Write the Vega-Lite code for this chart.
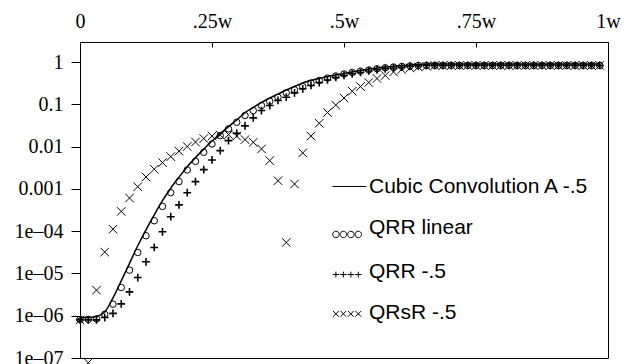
{
"$schema": "https://vega.github.io/schema/vega-lite/v6.json",
"width": 528, "height": 316,
"autosize": {"type": "none"},
"padding": {"left": 80, "top": 42, "right": 17, "bottom": 6},
"background": "white",
"config": {
  "view": {"stroke": "black", "strokeWidth": 1},
  "axis": {"domainColor": "black", "tickColor": "black", "labelColor": "black", "grid": false, "title": null}
},
"data": {"values": [
{"s":"Cubic Convolution A -.5","x":0,"v":9.14e-7},
{"s":"Cubic Convolution A -.5","x":0.015625,"v":9.14e-7},
{"s":"Cubic Convolution A -.5","x":0.03125,"v":9.64e-7},
{"s":"Cubic Convolution A -.5","x":0.046875,"v":1.23e-6},
{"s":"Cubic Convolution A -.5","x":0.0625,"v":2.65e-6},
{"s":"Cubic Convolution A -.5","x":0.078125,"v":6.70e-6},
{"s":"Cubic Convolution A -.5","x":0.09375,"v":1.74e-5},
{"s":"Cubic Convolution A -.5","x":0.109375,"v":4.52e-5},
{"s":"Cubic Convolution A -.5","x":0.125,"v":1.08e-4},
{"s":"Cubic Convolution A -.5","x":0.140625,"v":2.45e-4},
{"s":"Cubic Convolution A -.5","x":0.15625,"v":5.27e-4},
{"s":"Cubic Convolution A -.5","x":0.171875,"v":1.04e-3},
{"s":"Cubic Convolution A -.5","x":0.1875,"v":1.90e-3},
{"s":"Cubic Convolution A -.5","x":0.203125,"v":3.37e-3},
{"s":"Cubic Convolution A -.5","x":0.21875,"v":5.51e-3},
{"s":"Cubic Convolution A -.5","x":0.234375,"v":8.77e-3},
{"s":"Cubic Convolution A -.5","x":0.25,"v":0.0136},
{"s":"Cubic Convolution A -.5","x":0.265625,"v":0.0204},
{"s":"Cubic Convolution A -.5","x":0.28125,"v":0.0299},
{"s":"Cubic Convolution A -.5","x":0.296875,"v":0.0427},
{"s":"Cubic Convolution A -.5","x":0.3125,"v":0.0643},
{"s":"Cubic Convolution A -.5","x":0.328125,"v":0.0844},
{"s":"Cubic Convolution A -.5","x":0.34375,"v":0.111},
{"s":"Cubic Convolution A -.5","x":0.359375,"v":0.142},
{"s":"Cubic Convolution A -.5","x":0.375,"v":0.176},
{"s":"Cubic Convolution A -.5","x":0.390625,"v":0.219},
{"s":"Cubic Convolution A -.5","x":0.40625,"v":0.265},
{"s":"Cubic Convolution A -.5","x":0.421875,"v":0.321},
{"s":"Cubic Convolution A -.5","x":0.4375,"v":0.368},
{"s":"Cubic Convolution A -.5","x":0.453125,"v":0.411},
{"s":"Cubic Convolution A -.5","x":0.46875,"v":0.458},
{"s":"Cubic Convolution A -.5","x":0.484375,"v":0.497},
{"s":"Cubic Convolution A -.5","x":0.5,"v":0.540},
{"s":"Cubic Convolution A -.5","x":0.515625,"v":0.586},
{"s":"Cubic Convolution A -.5","x":0.53125,"v":0.636},
{"s":"Cubic Convolution A -.5","x":0.546875,"v":0.690},
{"s":"Cubic Convolution A -.5","x":0.5625,"v":0.729},
{"s":"Cubic Convolution A -.5","x":0.578125,"v":0.769},
{"s":"Cubic Convolution A -.5","x":0.59375,"v":0.804},
{"s":"Cubic Convolution A -.5","x":0.609375,"v":0.835},
{"s":"Cubic Convolution A -.5","x":0.625,"v":0.858},
{"s":"Cubic Convolution A -.5","x":0.640625,"v":0.882},
{"s":"Cubic Convolution A -.5","x":0.65625,"v":0.897},
{"s":"Cubic Convolution A -.5","x":0.671875,"v":0.906},
{"s":"Cubic Convolution A -.5","x":0.6875,"v":0.906},
{"s":"Cubic Convolution A -.5","x":0.703125,"v":0.906},
{"s":"Cubic Convolution A -.5","x":0.71875,"v":0.906},
{"s":"Cubic Convolution A -.5","x":0.734375,"v":0.906},
{"s":"Cubic Convolution A -.5","x":0.75,"v":0.906},
{"s":"Cubic Convolution A -.5","x":0.765625,"v":0.906},
{"s":"Cubic Convolution A -.5","x":0.78125,"v":0.906},
{"s":"Cubic Convolution A -.5","x":0.796875,"v":0.906},
{"s":"Cubic Convolution A -.5","x":0.8125,"v":0.906},
{"s":"Cubic Convolution A -.5","x":0.828125,"v":0.906},
{"s":"Cubic Convolution A -.5","x":0.84375,"v":0.906},
{"s":"Cubic Convolution A -.5","x":0.859375,"v":0.906},
{"s":"Cubic Convolution A -.5","x":0.875,"v":0.906},
{"s":"Cubic Convolution A -.5","x":0.890625,"v":0.906},
{"s":"Cubic Convolution A -.5","x":0.90625,"v":0.906},
{"s":"Cubic Convolution A -.5","x":0.921875,"v":0.906},
{"s":"Cubic Convolution A -.5","x":0.9375,"v":0.906},
{"s":"Cubic Convolution A -.5","x":0.953125,"v":0.906},
{"s":"Cubic Convolution A -.5","x":0.96875,"v":0.906},
{"s":"Cubic Convolution A -.5","x":0.984375,"v":0.906},
{"s":"QRR linear","x":0,"v":8.18e-7},
{"s":"QRR linear","x":0.015625,"v":8.18e-7},
{"s":"QRR linear","x":0.03125,"v":8.41e-7},
{"s":"QRR linear","x":0.046875,"v":1.08e-6},
{"s":"QRR linear","x":0.0625,"v":1.88e-6},
{"s":"QRR linear","x":0.078125,"v":4.65e-6},
{"s":"QRR linear","x":0.09375,"v":1.20e-5},
{"s":"QRR linear","x":0.109375,"v":3.14e-5},
{"s":"QRR linear","x":0.125,"v":7.80e-5},
{"s":"QRR linear","x":0.140625,"v":1.77e-4},
{"s":"QRR linear","x":0.15625,"v":3.86e-4},
{"s":"QRR linear","x":0.171875,"v":8.16e-4},
{"s":"QRR linear","x":0.1875,"v":1.49e-3},
{"s":"QRR linear","x":0.203125,"v":2.82e-3},
{"s":"QRR linear","x":0.21875,"v":4.50e-3},
{"s":"QRR linear","x":0.234375,"v":7.36e-3},
{"s":"QRR linear","x":0.25,"v":0.0116},
{"s":"QRR linear","x":0.265625,"v":0.0183},
{"s":"QRR linear","x":0.28125,"v":0.0264},
{"s":"QRR linear","x":0.296875,"v":0.0378},
{"s":"QRR linear","x":0.3125,"v":0.0546},
{"s":"QRR linear","x":0.328125,"v":0.0716},
{"s":"QRR linear","x":0.34375,"v":0.0941},
{"s":"QRR linear","x":0.359375,"v":0.119},
{"s":"QRR linear","x":0.375,"v":0.148},
{"s":"QRR linear","x":0.390625,"v":0.188},
{"s":"QRR linear","x":0.40625,"v":0.222},
{"s":"QRR linear","x":0.421875,"v":0.265},
{"s":"QRR linear","x":0.4375,"v":0.321},
{"s":"QRR linear","x":0.453125,"v":0.368},
{"s":"QRR linear","x":0.46875,"v":0.422},
{"s":"QRR linear","x":0.484375,"v":0.471},
{"s":"QRR linear","x":0.5,"v":0.525},
{"s":"QRR linear","x":0.515625,"v":0.570},
{"s":"QRR linear","x":0.53125,"v":0.612},
{"s":"QRR linear","x":0.546875,"v":0.653},
{"s":"QRR linear","x":0.5625,"v":0.698},
{"s":"QRR linear","x":0.578125,"v":0.737},
{"s":"QRR linear","x":0.59375,"v":0.769},
{"s":"QRR linear","x":0.609375,"v":0.791},
{"s":"QRR linear","x":0.625,"v":0.813},
{"s":"QRR linear","x":0.640625,"v":0.835},
{"s":"QRR linear","x":0.65625,"v":0.835},
{"s":"QRR linear","x":0.671875,"v":0.835},
{"s":"QRR linear","x":0.6875,"v":0.835},
{"s":"QRR linear","x":0.703125,"v":0.835},
{"s":"QRR linear","x":0.71875,"v":0.835},
{"s":"QRR linear","x":0.734375,"v":0.835},
{"s":"QRR linear","x":0.75,"v":0.835},
{"s":"QRR linear","x":0.765625,"v":0.835},
{"s":"QRR linear","x":0.78125,"v":0.835},
{"s":"QRR linear","x":0.796875,"v":0.835},
{"s":"QRR linear","x":0.8125,"v":0.835},
{"s":"QRR linear","x":0.828125,"v":0.835},
{"s":"QRR linear","x":0.84375,"v":0.835},
{"s":"QRR linear","x":0.859375,"v":0.835},
{"s":"QRR linear","x":0.875,"v":0.835},
{"s":"QRR linear","x":0.890625,"v":0.835},
{"s":"QRR linear","x":0.90625,"v":0.835},
{"s":"QRR linear","x":0.921875,"v":0.835},
{"s":"QRR linear","x":0.9375,"v":0.835},
{"s":"QRR linear","x":0.953125,"v":0.835},
{"s":"QRR linear","x":0.96875,"v":0.835},
{"s":"QRR linear","x":0.984375,"v":0.835},
{"s":"QRR -.5","x":0,"v":7.97e-7},
{"s":"QRR -.5","x":0.015625,"v":7.97e-7},
{"s":"QRR -.5","x":0.03125,"v":7.97e-7},
{"s":"QRR -.5","x":0.046875,"v":9.08e-7},
{"s":"QRR -.5","x":0.0625,"v":1.14e-6},
{"s":"QRR -.5","x":0.078125,"v":1.91e-6},
{"s":"QRR -.5","x":0.09375,"v":3.67e-6},
{"s":"QRR -.5","x":0.109375,"v":8.02e-6},
{"s":"QRR -.5","x":0.125,"v":1.89e-5},
{"s":"QRR -.5","x":0.140625,"v":4.12e-5},
{"s":"QRR -.5","x":0.15625,"v":9.71e-5},
{"s":"QRR -.5","x":0.171875,"v":2.20e-4},
{"s":"QRR -.5","x":0.1875,"v":4.19e-4},
{"s":"QRR -.5","x":0.203125,"v":8.16e-4},
{"s":"QRR -.5","x":0.21875,"v":1.49e-3},
{"s":"QRR -.5","x":0.234375,"v":2.86e-3},
{"s":"QRR -.5","x":0.25,"v":4.86e-3},
{"s":"QRR -.5","x":0.265625,"v":8.07e-3},
{"s":"QRR -.5","x":0.28125,"v":0.0139},
{"s":"QRR -.5","x":0.296875,"v":0.0207},
{"s":"QRR -.5","x":0.3125,"v":0.0311},
{"s":"QRR -.5","x":0.328125,"v":0.0481},
{"s":"QRR -.5","x":0.34375,"v":0.0716},
{"s":"QRR -.5","x":0.359375,"v":0.0941},
{"s":"QRR -.5","x":0.375,"v":0.124},
{"s":"QRR -.5","x":0.390625,"v":0.148},
{"s":"QRR -.5","x":0.40625,"v":0.188},
{"s":"QRR -.5","x":0.421875,"v":0.234},
{"s":"QRR -.5","x":0.4375,"v":0.281},
{"s":"QRR -.5","x":0.453125,"v":0.330},
{"s":"QRR -.5","x":0.46875,"v":0.379},
{"s":"QRR -.5","x":0.484375,"v":0.434},
{"s":"QRR -.5","x":0.5,"v":0.484},
{"s":"QRR -.5","x":0.515625,"v":0.531},
{"s":"QRR -.5","x":0.53125,"v":0.570},
{"s":"QRR -.5","x":0.546875,"v":0.618},
{"s":"QRR -.5","x":0.5625,"v":0.661},
{"s":"QRR -.5","x":0.578125,"v":0.698},
{"s":"QRR -.5","x":0.59375,"v":0.729},
{"s":"QRR -.5","x":0.609375,"v":0.761},
{"s":"QRR -.5","x":0.625,"v":0.791},
{"s":"QRR -.5","x":0.640625,"v":0.813},
{"s":"QRR -.5","x":0.65625,"v":0.835},
{"s":"QRR -.5","x":0.671875,"v":0.835},
{"s":"QRR -.5","x":0.6875,"v":0.835},
{"s":"QRR -.5","x":0.703125,"v":0.835},
{"s":"QRR -.5","x":0.71875,"v":0.835},
{"s":"QRR -.5","x":0.734375,"v":0.835},
{"s":"QRR -.5","x":0.75,"v":0.835},
{"s":"QRR -.5","x":0.765625,"v":0.835},
{"s":"QRR -.5","x":0.78125,"v":0.835},
{"s":"QRR -.5","x":0.796875,"v":0.835},
{"s":"QRR -.5","x":0.8125,"v":0.835},
{"s":"QRR -.5","x":0.828125,"v":0.835},
{"s":"QRR -.5","x":0.84375,"v":0.835},
{"s":"QRR -.5","x":0.859375,"v":0.835},
{"s":"QRR -.5","x":0.875,"v":0.835},
{"s":"QRR -.5","x":0.890625,"v":0.835},
{"s":"QRR -.5","x":0.90625,"v":0.835},
{"s":"QRR -.5","x":0.921875,"v":0.835},
{"s":"QRR -.5","x":0.9375,"v":0.835},
{"s":"QRR -.5","x":0.953125,"v":0.835},
{"s":"QRR -.5","x":0.96875,"v":0.835},
{"s":"QRR -.5","x":0.984375,"v":0.835},
{"s":"QRsR -.5","x":0,"v":7.97e-7},
{"s":"QRsR -.5","x":0.015625,"v":7.75e-8},
{"s":"QRsR -.5","x":0.03125,"v":4.03e-6},
{"s":"QRsR -.5","x":0.046875,"v":3.21e-5},
{"s":"QRsR -.5","x":0.0625,"v":1.12e-4},
{"s":"QRsR -.5","x":0.078125,"v":2.94e-4},
{"s":"QRsR -.5","x":0.09375,"v":6.11e-4},
{"s":"QRsR -.5","x":0.109375,"v":1.13e-3},
{"s":"QRsR -.5","x":0.125,"v":1.92e-3},
{"s":"QRsR -.5","x":0.140625,"v":2.94e-3},
{"s":"QRsR -.5","x":0.15625,"v":4.20e-3},
{"s":"QRsR -.5","x":0.171875,"v":5.82e-3},
{"s":"QRsR -.5","x":0.1875,"v":7.85e-3},
{"s":"QRsR -.5","x":0.203125,"v":0.0101},
{"s":"QRsR -.5","x":0.21875,"v":0.0129},
{"s":"QRsR -.5","x":0.234375,"v":0.0156},
{"s":"QRsR -.5","x":0.25,"v":0.0178},
{"s":"QRsR -.5","x":0.265625,"v":0.0188},
{"s":"QRsR -.5","x":0.28125,"v":0.0193},
{"s":"QRsR -.5","x":0.296875,"v":0.0178},
{"s":"QRsR -.5","x":0.3125,"v":0.0147},
{"s":"QRsR -.5","x":0.328125,"v":0.0127},
{"s":"QRsR -.5","x":0.34375,"v":8.86e-3},
{"s":"QRsR -.5","x":0.359375,"v":4.68e-3},
{"s":"QRsR -.5","x":0.375,"v":1.57e-3},
{"s":"QRsR -.5","x":0.390625,"v":5.42e-5},
{"s":"QRsR -.5","x":0.40625,"v":1.31e-3},
{"s":"QRsR -.5","x":0.421875,"v":7.13e-3},
{"s":"QRsR -.5","x":0.4375,"v":0.0178},
{"s":"QRsR -.5","x":0.453125,"v":0.0358},
{"s":"QRsR -.5","x":0.46875,"v":0.0643},
{"s":"QRsR -.5","x":0.484375,"v":0.0967},
{"s":"QRsR -.5","x":0.5,"v":0.142},
{"s":"QRsR -.5","x":0.515625,"v":0.205},
{"s":"QRsR -.5","x":0.53125,"v":0.265},
{"s":"QRsR -.5","x":0.546875,"v":0.330},
{"s":"QRsR -.5","x":0.5625,"v":0.411},
{"s":"QRsR -.5","x":0.578125,"v":0.484},
{"s":"QRsR -.5","x":0.59375,"v":0.586},
{"s":"QRsR -.5","x":0.609375,"v":0.671},
{"s":"QRsR -.5","x":0.625,"v":0.729},
{"s":"QRsR -.5","x":0.640625,"v":0.769},
{"s":"QRsR -.5","x":0.65625,"v":0.804},
{"s":"QRsR -.5","x":0.671875,"v":0.835},
{"s":"QRsR -.5","x":0.6875,"v":0.835},
{"s":"QRsR -.5","x":0.703125,"v":0.835},
{"s":"QRsR -.5","x":0.71875,"v":0.835},
{"s":"QRsR -.5","x":0.734375,"v":0.835},
{"s":"QRsR -.5","x":0.75,"v":0.835},
{"s":"QRsR -.5","x":0.765625,"v":0.835},
{"s":"QRsR -.5","x":0.78125,"v":0.835},
{"s":"QRsR -.5","x":0.796875,"v":0.835},
{"s":"QRsR -.5","x":0.8125,"v":0.835},
{"s":"QRsR -.5","x":0.828125,"v":0.835},
{"s":"QRsR -.5","x":0.84375,"v":0.835},
{"s":"QRsR -.5","x":0.859375,"v":0.835},
{"s":"QRsR -.5","x":0.875,"v":0.835},
{"s":"QRsR -.5","x":0.890625,"v":0.835},
{"s":"QRsR -.5","x":0.90625,"v":0.835},
{"s":"QRsR -.5","x":0.921875,"v":0.835},
{"s":"QRsR -.5","x":0.9375,"v":0.835},
{"s":"QRsR -.5","x":0.953125,"v":0.835},
{"s":"QRsR -.5","x":0.96875,"v":0.835},
{"s":"QRsR -.5","x":0.984375,"v":0.835}
]},
"encoding": {
  "x": {"field": "x", "type": "quantitative",
        "scale": {"domain": [0, 1], "nice": false, "zero": false},
        "axis": {"orient": "top", "values": [0, 0.25, 0.5, 0.75, 1], "tickSize": -5, "labelPadding": 16, "labelFlush": false,
                 "labelFont": "Liberation Serif, Times New Roman, DejaVu Serif, serif", "labelFontSize": 20, "labelColor": "black",
                 "labelExpr": "datum.value == 0 ? '0' : datum.value == 1 ? '1w' : replace('' + datum.value, '0.', '.') + 'w'"}},
  "y": {"field": "v", "type": "quantitative",
        "scale": {"type": "log", "domain": [1e-7, 3], "nice": false},
        "axis": {"values": [1e-7, 1e-6, 1e-5, 1e-4, 0.001, 0.01, 0.1, 1], "tickSize": 9, "labelPadding": 8,
                 "labelFont": "Liberation Serif, Times New Roman, DejaVu Serif, serif", "labelFontSize": 20, "labelColor": "black",
                 "labelExpr": "datum.value > 0.0005 ? '' + datum.value : '1e\u20130' + round(-log(datum.value) / LN10)"}}
},
"layer": [
  {"transform": [{"filter": "datum.s === 'Cubic Convolution A -.5'"}],
   "mark": {"type": "line", "color": "black", "strokeWidth": 1.5, "interpolate": "monotone"}},
  {"transform": [{"filter": "datum.s === 'QRR linear'"}],
   "mark": {"type": "point", "shape": "circle", "size": 42, "color": "black", "strokeWidth": 1, "filled": false, "opacity": 1}},
  {"transform": [{"filter": "datum.s === 'QRR -.5'"}],
   "mark": {"type": "point", "shape": "M-1,0H1M0,-1V1", "size": 60, "color": "black", "strokeWidth": 1.6, "filled": false, "opacity": 1}},
  {"transform": [{"filter": "datum.s === 'QRsR -.5'"}],
   "mark": {"type": "point", "shape": "M-1,-1L1,1M-1,1L1,-1", "size": 72, "color": "black", "strokeWidth": 1, "filled": false, "opacity": 1}},
  {"mark": {"type": "point", "size": 0, "color": "black", "filled": false, "strokeWidth": 1},
   "encoding": {"shape": {"field": "s", "type": "nominal",
     "scale": {"domain": ["Cubic Convolution A -.5", "QRR linear", "QRR -.5", "QRsR -.5"],
               "range": [
                 "M-1,0L1,0",
                 "M-0.99,0.38A0.19,0.19 0 1,0 -0.61,0.38A0.19,0.19 0 1,0 -0.99,0.38ZM-0.55,0.38A0.19,0.19 0 1,0 -0.17,0.38A0.19,0.19 0 1,0 -0.55,0.38ZM-0.11,0.38A0.19,0.19 0 1,0 0.27,0.38A0.19,0.19 0 1,0 -0.11,0.38ZM0.33,0.38A0.19,0.19 0 1,0 0.71,0.38A0.19,0.19 0 1,0 0.33,0.38Z",
                 "M-0.99,0.18H-0.61M-0.8,0.01V0.35M-0.55,0.18H-0.17M-0.36,0.01V0.35M-0.11,0.18H0.27M0.08,0.01V0.35M0.33,0.18H0.71M0.52,0.01V0.35",
                 "M-0.97,-0.12L-0.63,0.22M-0.97,0.22L-0.63,-0.12M-0.53,-0.12L-0.19,0.22M-0.53,0.22L-0.19,-0.12M-0.09,-0.12L0.25,0.22M-0.09,0.22L0.25,-0.12M0.35,-0.12L0.69,0.22M0.35,0.22L0.69,-0.12"
               ]},
     "legend": {"title": null, "orient": "none", "legendX": 252, "legendY": 127, "padding": 0,
                "symbolSize": 1156, "symbolStrokeWidth": 1, "symbolStrokeColor": "black", "symbolFillColor": "transparent", "symbolOpacity": 1,
                "labelFont": "Liberation Sans, Arial, sans-serif", "labelFontSize": 21, "labelColor": "black", "labelOffset": 2, "rowPadding": 13.5, "labelLimit": 400}}}}
]
}
